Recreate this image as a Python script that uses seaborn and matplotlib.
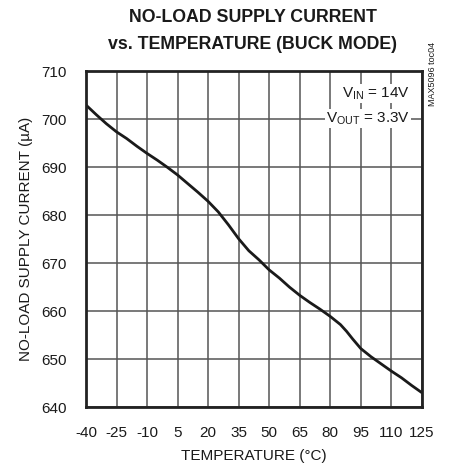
import matplotlib
matplotlib.use("Agg")
import matplotlib.pyplot as plt
import pandas as pd
import seaborn as sns
from matplotlib import font_manager

# values
temperature_c = [-40, -35, -30, -25, -20, -15, -10, -5, 0, 5, 10, 15, 20, 25,
                 30, 35, 40, 45, 50, 55, 60, 65, 70, 75, 80, 85, 88, 91, 95,
                 100, 105, 110, 115, 120, 125]
supply_ua = [703.0, 701.0, 699.1, 697.4, 696.0, 694.4, 692.9, 691.5, 690.0,
             688.4, 686.6, 684.8, 682.9, 680.7, 678.0, 675.1, 672.6, 670.7,
             668.6, 666.9, 665.0, 663.3, 661.8, 660.4, 658.9, 657.2, 655.8,
             654.2, 652.2, 650.5, 649.0, 647.5, 646.1, 644.5, 643.0]

x_ticks = list(range(-40, 126, 15))
y_ticks = list(range(640, 711, 10))

df = pd.DataFrame({"temp": temperature_c, "current": supply_ua})

sns.set_theme(style="white")
names = {f.name for f in font_manager.fontManager.ttflist}
family = "Liberation Sans Narrow" if "Liberation Sans Narrow" in names else "Liberation Sans"
plt.rcParams["font.family"] = [family, "DejaVu Sans"]
plt.rcParams["axes.unicode_minus"] = False

fig = plt.figure(figsize=(4.49, 4.70), dpi=100)
ax = fig.add_axes([0.1915, 0.134, 0.748, 0.714])

sns.lineplot(data=df, x="temp", y="current", ax=ax, color="#1a1a1a", linewidth=2.0)

ax.set_xlim(-40, 125)
ax.set_ylim(640, 710)
ax.set_xticks(x_ticks)
ax.set_yticks(y_ticks)
ax.grid(True, color="#555555", linewidth=1.1)
ax.tick_params(length=0, labelsize=11, colors="#1a1a1a")
ax.tick_params(axis="x", pad=14)
ax.tick_params(axis="y", pad=14)
for s in ax.spines.values():
    s.set_color("#222222")
    s.set_linewidth(2.0)

ax.set_xlabel("TEMPERATURE (°C)", fontsize=11, color="#1a1a1a", labelpad=6)
ax.set_ylabel("NO-LOAD SUPPLY CURRENT (µA)", fontsize=11, color="#1a1a1a", labelpad=6)

fig.text(0.563, 0.962, "NO-LOAD SUPPLY CURRENT", ha="center", va="center",
         fontsize=12.8, fontweight="bold", color="#1a1a1a")
fig.text(0.563, 0.905, "vs. TEMPERATURE (BUCK MODE)", ha="center", va="center",
         fontsize=12.8, fontweight="bold", color="#1a1a1a")

ax.text(0.965, 0.935, "V$_{\\mathregular{IN}}$ = 14V", transform=ax.transAxes,
        ha="right", va="center", fontsize=11, color="#1a1a1a",
        bbox=dict(facecolor="white", edgecolor="none", pad=1.0))
ax.text(0.965, 0.86, "V$_{\\mathregular{OUT}}$ = 3.3V", transform=ax.transAxes,
        ha="right", va="center", fontsize=11, color="#1a1a1a",
        bbox=dict(facecolor="white", edgecolor="none", pad=1.0))

fig.text(0.963, 0.775, "MAX5096 toc04", rotation=90, ha="center", va="bottom",
         fontsize=6.5, color="#1a1a1a")

fig.savefig("out.png", dpi=100, facecolor="white")
